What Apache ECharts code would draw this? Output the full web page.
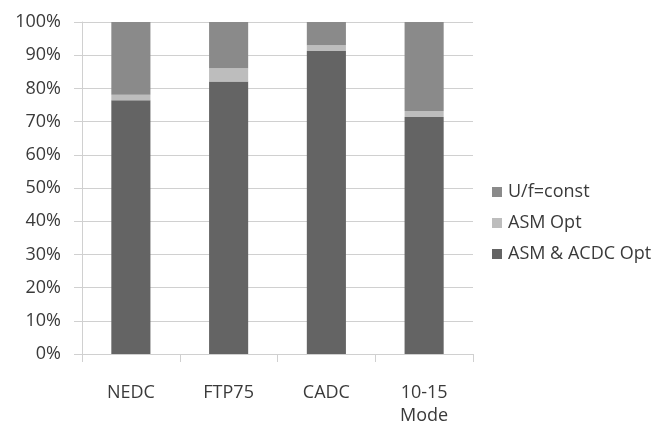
<!DOCTYPE html>
<html><head><meta charset="utf-8">
<script src="https://cdn.jsdelivr.net/npm/echarts@6/dist/echarts.min.js"></script>
<style>html,body{margin:0;padding:0;background:#fff}#c{width:666px;height:423px}</style>
</head><body><div id="c"></div>
<script>
const categories = ['NEDC', 'FTP75', 'CADC', '10-15\nMode'];
const asmAcdcOpt = [76.4, 82.1, 91.3, 71.4];
const asmOpt = [1.7, 4.0, 1.7, 1.8];
const ufConst = [21.9, 13.9, 7.0, 26.8];
const seriesNames = ['ASM & ACDC Opt', 'ASM Opt', 'U/f=const'];
const colors = ['#646464', '#bdbdbd', '#8a8a8a'];
const FONT = 'Open Sans';
const chart = echarts.init(document.getElementById('c'));
const mk = (name, data, color) => ({
  name, type: 'bar', stack: 's', data, barWidth: '40%',
  itemStyle: { color }, emphasis: { disabled: true }
});
chart.setOption({
  animation: false,
  textStyle: { fontFamily: FONT },
  grid: { left: 82, right: 193, top: 22, bottom: 69, outerBoundsMode: 'none', containLabel: false },
  legend: {
    data: ['U/f=const', 'ASM Opt', 'ASM & ACDC Opt'],
    orient: 'vertical', left: 487, top: 178,
    itemWidth: 10, itemHeight: 10, itemGap: 13,
    icon: 'rect',
    textStyle: { fontFamily: FONT, fontSize: 18, color: '#3a3a3a', padding: [0, 0, 0, 1] }
  },
  xAxis: {
    type: 'category', data: categories,
    axisLine: { lineStyle: { color: '#d0d0d0' } },
    axisTick: { show: true, length: 8, lineStyle: { color: '#d0d0d0' } },
    axisLabel: { fontFamily: FONT, fontSize: 18, color: '#3a3a3a', margin: 27, lineHeight: 23, verticalAlign: 'top' }
  },
  yAxis: {
    type: 'value', min: 0, max: 100, interval: 10,
    axisLine: { show: true, lineStyle: { color: '#d0d0d0' } },
    axisTick: { show: true, length: 8, lineStyle: { color: '#d0d0d0' } },
    splitLine: { lineStyle: { color: '#d0d0d0' } },
    axisLabel: { formatter: '{value}%', fontFamily: FONT, fontSize: 18, color: '#3a3a3a', margin: 21 }
  },
  series: [
    mk(seriesNames[0], asmAcdcOpt, colors[0]),
    mk(seriesNames[1], asmOpt, colors[1]),
    mk(seriesNames[2], ufConst, colors[2])
  ]
});
</script></body></html>
